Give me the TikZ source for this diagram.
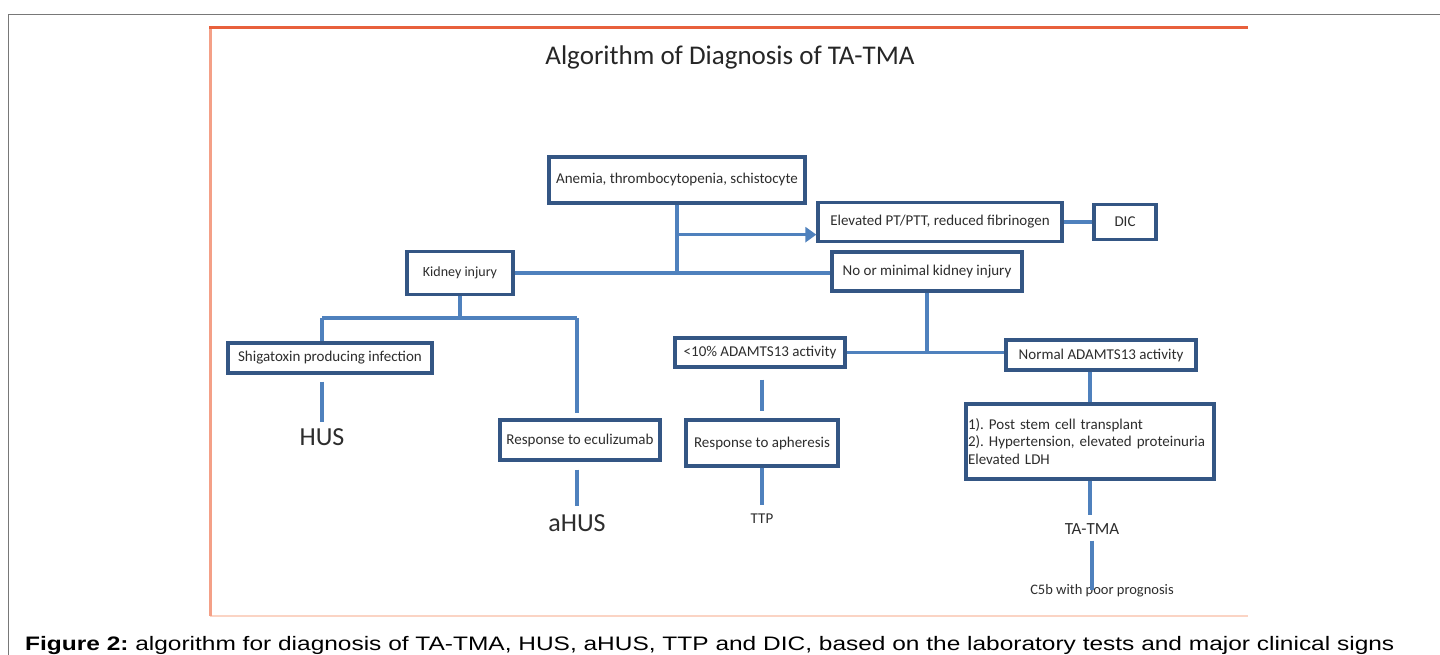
\documentclass[tikz,border=0pt]{standalone}
\usepackage{fontspec}
\setmainfont{Carlito}
\newfontfamily\capfont{Liberation Sans}
\usetikzlibrary{arrows.meta,calc}
\definecolor{boxline}{RGB}{52,86,132}
\definecolor{conn}{RGB}{79,129,189}
\definecolor{frameor}{RGB}{232,96,60}
\definecolor{frameleft}{RGB}{244,160,135}
\definecolor{framebot}{RGB}{251,212,196}
\definecolor{outer}{RGB}{120,120,120}
\definecolor{txt}{RGB}{45,45,45}
\frenchspacing
\begin{document}
\begin{tikzpicture}[x=1pt,y=-1pt,
  box/.style={draw=boxline, line width=3.3pt, fill=white, inner sep=0pt, align=center,
    font=\fontsize{15}{17.5}\selectfont, text=txt},
  conline/.style={draw=conn, line width=3.2pt},
  lbl/.style={inner sep=0pt, text=txt}]
\useasboundingbox (0,0) rectangle (1440,655);
% frames
\draw[outer, line width=1.5pt] (8.5,700) -- (8.5,14.5) -- (1460,14.5);
\draw[framebot, line width=2pt] (210,616) -- (1248,616);
\draw[frameleft, line width=3pt] (210,616) -- (210,28);
\draw[frameor, line width=3pt] (209,28) -- (1248,28);
% title
\node[lbl, font=\fontsize{27}{30}\selectfont, text=black!85] (title) at (730,57) {Algorithm of Diagnosis of TA-TMA};
% boxes
\node[box, minimum width=256pt, minimum height=46pt] (anemia) at (677,180) {Anemia, thrombocytopenia, schistocyte};
\node[box, minimum width=244pt, minimum height=39pt] (elev) at (940,222) {Elevated PT/PTT, reduced fibrinogen};
\node[box, minimum width=62pt, minimum height=35pt] (dic) at (1125,222) {DIC};
\node[box, minimum width=106pt, minimum height=43pt, font=\fontsize{14}{16}\selectfont] (kidney) at (460,273) {Kidney injury};
\node[box, minimum width=190pt, minimum height=39pt] (nomin) at (927,271.5) {No or minimal kidney injury};
\node[box, minimum width=170pt, minimum height=29pt] (less) at (760,352.5) {<10\% ADAMTS13 activity};
\node[box, minimum width=190pt, minimum height=30pt] (normal) at (1101,355) {Normal ADAMTS13 activity};
\node[box, minimum width=204pt, minimum height=30pt] (shiga) at (330,358) {Shigatoxin producing infection};
\node[box, minimum width=160pt, minimum height=40pt] (ecu) at (580,440) {Response to eculizumab};
\node[box, minimum width=152pt, minimum height=46pt] (apher) at (762,443) {Response to apheresis};
\node[box, minimum width=248pt, minimum height=75pt, align=left, text width=244pt] (post) at (1090,441.5)
  {1). Post stem cell transplant\\2). Hypertension, elevated proteinuria\\Elevated LDH};
% outcome labels
\node[lbl, font=\fontsize{26}{28}\selectfont] (hus) at (322,437) {HUS};
\node[lbl, font=\fontsize{26}{28}\selectfont] (ahus) at (577,523) {aHUS};
\node[lbl, font=\fontsize{15}{17}\selectfont] (ttp) at (762,519) {TTP};
\node[lbl, font=\fontsize{17}{19}\selectfont] (tatma) at (1092,529) {TA-TMA};
\node[lbl, font=\fontsize{14.5}{16}\selectfont] (c5b) at (1102,591) {C5b with poor prognosis};
% junction coordinates
\coordinate (jtop) at (anemia.south |- kidney.east);
\coordinate (jarrow) at ($(anemia.south)+(0,30)$);
\coordinate (jk) at ($(kidney.south)+(0,22)$);
\coordinate (jl) at (322,318);
\coordinate (jr) at (577,318);
\coordinate (jn) at (nomin.south |- less.east);
% connectors
\draw[conline] (anemia.south) -- (jtop);
\draw[conline, -{Triangle[length=11pt,width=15pt]}] (jarrow) -- (jarrow -| elev.west);
\draw[conline] (kidney.east) -- (kidney.east -| nomin.west);
\draw[conline] (elev.east) -- (dic.west);
\draw[conline] (nomin.south) -- (jn);
\draw[conline] (less.east) -- (less.east -| normal.west);
\draw[conline] (kidney.south) -- (jk);
\draw[conline] (jl) -- (jr);
\draw[conline] (jl) -- (jl |- shiga.north);
\draw[conline, shorten >=5pt] (jr) -- (jr |- ecu.north);
\draw[conline, shorten <=7pt, shorten >=6pt] (shiga.south -| hus) -- (hus.north);
\draw[conline, shorten <=8pt, shorten >=8pt] (ecu.south -| ahus) -- (ahus.north);
\draw[conline, shorten <=11pt, shorten >=7pt] (less.south -| apher) -- (apher.north);
\draw[conline, shorten >=9pt] (apher.south) -- (ttp.north);
\draw[conline] (normal.south -| post) -- (post.north);
\draw[conline, shorten >=8pt] (post.south) -- (post.south |- tatma.north);
\draw[conline, shorten <=6pt, shorten >=-5pt] (tatma.south) -- (tatma.south |- c5b.north);
% caption
\node[lbl, anchor=base west, text=black, font=\capfont\fontsize{19.5}{22}\selectfont] (cap) at (25,650)
  {\scalebox{1.255}[1]{\textbf{Figure 2:} algorithm for diagnosis of TA-TMA, HUS, aHUS, TTP and DIC, based on the laboratory tests and major clinical signs}};
\end{tikzpicture}
\end{document}
